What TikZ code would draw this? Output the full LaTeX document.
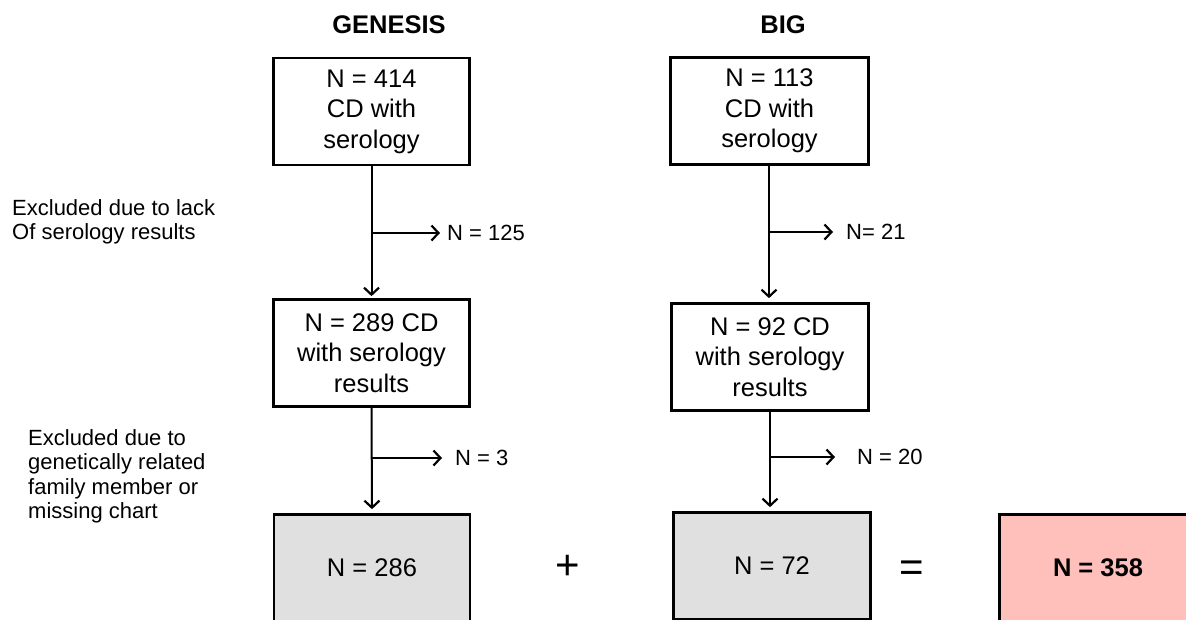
\documentclass[tikz,border=0pt]{standalone}
\usepackage{fontspec}
\setmainfont{Liberation Sans}
\usetikzlibrary{arrows.meta}
\definecolor{boxgray}{HTML}{E0E0E0}
\definecolor{boxred}{HTML}{FFBFBA}
\begin{document}
\begin{tikzpicture}[x=1pt,y=-1pt,
  box/.style={draw=black, line width=2.7pt, minimum width=196pt, minimum height=107pt, inner sep=0pt, align=center, font=\fontsize{25.5}{30.5}\selectfont},
  conn/.style={line width=2pt, -{Straight Barb[length=7pt,width=15pt,line width=2.2pt]}},
  lbl/.style={font=\fontsize{22}{26}\selectfont, anchor=west, inner sep=0pt},
  side/.style={font=\fontsize{22}{24.5}\selectfont, align=left, anchor=north west, inner sep=0pt},
  ttl/.style={font=\bfseries\fontsize{25.5}{28}\selectfont},
  op/.style={font=\fontsize{42}{42}\selectfont}]
\useasboundingbox (0,0) rectangle (1186,619);
\clip (0,0) rectangle (1186,619);
\fill[white] (0,0) rectangle (1186,619);

\node[ttl] (tg) at (389,25) {GENESIS};
\node[ttl] (tb) at (783,25) {BIG};

\node[box] (g1) at (371.5,111.5) {N = 414\\CD with\\serology};
\node[box] (g2) at (371.5,353) {N = 289 CD\\with serology\\results};
\node[box, fill=boxgray] (g3) at (372,568) {N = 286};

\node[box, minimum width=198pt] (b1) at (769.5,111) {N = 113\\CD with\\serology};
\node[box, minimum width=197pt] (b2) at (770,357) {N = 92 CD\\with serology\\results};
\node[box, fill=boxgray, minimum width=197pt] (b3) at (772,566) {N = 72};

\node[box, fill=boxred, minimum width=197pt, font=\bfseries\fontsize{25.5}{30}\selectfont] (tot) at (1098,568) {N = 358};

\node[op] (plus) at (568,567) {+};
\node[op] (eq) at (912,571) {=};

\draw[conn, shorten >=2pt] (g1.south) -- (g2.north);
\draw[conn, shorten >=4pt] (g2.south) -- (g3.north);
\draw[conn, shorten >=4pt] (b1.south -| 769,0) -- (b2.north -| 769,0);
\draw[conn, shorten >=4pt] (b2.south -| 770,0) -- (b3.north -| 770,0);

\coordinate (g1b) at (372,233);
\coordinate (g2b) at (372,458);
\coordinate (b1b) at (769,232);
\coordinate (b2b) at (770,457);

\node[lbl] (g1n) at (447,233) {N = 125};
\node[lbl] (g2n) at (455,458) {N = 3};
\node[lbl] (b1n) at (846,232) {N= 21};
\node[lbl] (b2n) at (857,457) {N = 20};

\draw[conn, shorten >=7pt] (g1b) -- (g1n.west);
\draw[conn, shorten >=13pt] (g2b) -- (g2n.west);
\draw[conn, shorten >=13pt] (b1b) -- (b1n.west);
\draw[conn, shorten >=22pt] (b2b) -- (b2n.west);

\node[side] (s1) at (12,199) {Excluded due to lack\\Of serology results};
\node[side] (s2) at (28,429) {Excluded due to\\genetically related\\family member or\\missing chart};
\end{tikzpicture}
\end{document}
